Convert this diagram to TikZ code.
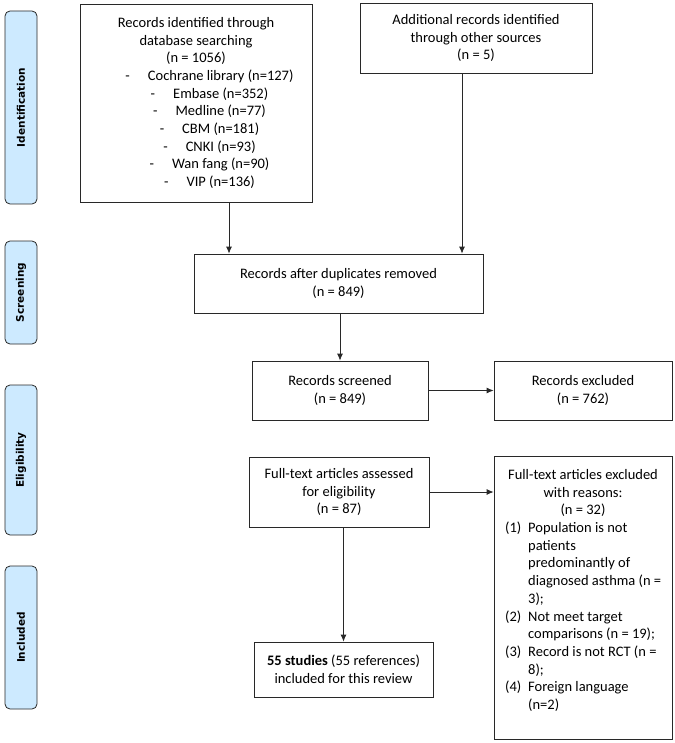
\documentclass[tikz,border=0pt]{standalone}
\usepackage{fontspec}
\setmainfont{Carlito}
\newfontfamily\labelfont{DejaVu Sans}
\usetikzlibrary{arrows.meta}
\definecolor{sideblue}{RGB}{205,234,255}
\definecolor{linegray}{RGB}{40,40,40}
\newcommand{\mainsz}{\fontsize{14.5}{17.7}\selectfont}
\newcommand{\lstitem}[1]{\makebox[27pt]{}-\hspace{18pt}#1}
\begin{document}
\begin{tikzpicture}[x=1pt,y=-1pt,
  box/.style={draw=linegray, line width=0.8pt, rectangle, inner sep=0pt, align=center, font=\mainsz, text=black},
  txt/.style={inner sep=0pt, align=center, font=\mainsz, text=black},
  side/.style={draw=linegray, line width=0.8pt, fill=sideblue, rounded corners=5pt, minimum height=32pt, inner sep=0pt, rotate=90, font=\labelfont\bfseries\fontsize{10.5}{12}\selectfont},
  arr/.style={-{Latex[length=7pt,width=6pt]}, line width=0.8pt, draw=linegray}]
\useasboundingbox (0,0) rectangle (674,743);
% side labels
\node[side, minimum width=193pt] (sid) at (21,107.5) {Identification};
\node[side, minimum width=103pt] (ssc) at (21,292.5) {Screening};
\node[side, minimum width=150pt] (sel) at (21,460) {Eligibility};
\node[side, minimum width=143pt] (sin) at (21,637.5) {Included};
% flow boxes
\node[box, minimum width=232pt, minimum height=198pt] (db) at (196,103) {Records identified through\\database searching\\(n = 1056)\\
\lstitem{Cochrane library (n=127)}\\
\lstitem{Embase (n=352)}\\
\lstitem{Medline (n=77)}\\
\lstitem{CBM (n=181)}\\
\lstitem{CNKI (n=93)}\\
\lstitem{Wan fang (n=90)}\\
\lstitem{VIP (n=136)}};
\node[box, minimum width=232pt, minimum height=70pt] (add) at (476,38) {Additional records identified\\through other sources\\(n = 5)};
\node[box, minimum width=289pt, minimum height=59pt] (rad) at (338.5,283.5) {Records after duplicates removed\\(n = 849)};
\node[box, minimum width=176pt, minimum height=59pt] (scr) at (340,390.5) {Records screened\\(n = 849)};
\node[box, minimum width=178pt, minimum height=59pt] (exc) at (583,390.5) {Records excluded\\(n = 762)};
\node[box, minimum width=180pt, minimum height=70pt] (fta) at (339,492) {Full-text articles assessed\\for eligibility\\(n = 87)};
\node[box, minimum width=178pt, minimum height=283pt] (ftex) at (583,597.5) {};
\node[txt] (ftexhd) at (583,493) {Full-text articles excluded\\with reasons:\\(n = 32)};
\node[txt, anchor=west] (ftexls) at (505,617.5) {\begin{tabular}{@{}p{23pt}@{}l@{}}
(1) & Population is not\\
 & patients\\
 & predominantly of\\
 & diagnosed asthma (n =\\
 & 3);\\
(2) & Not meet target\\
 & comparisons (n = 19);\\
(3) & Record is not RCT (n =\\
 & 8);\\
(4) & Foreign language\\
 & (n=2)
\end{tabular}};
\node[box, minimum width=179pt, minimum height=55pt] (inc) at (343.5,669.5) {\textbf{55 studies} (55 references)\\included for this review};
% connectors
\draw[arr] ([xshift=33pt]db.south) -- ([xshift=33pt]db.south |- rad.north);
\draw[arr] ([xshift=-14pt]add.south) -- ([xshift=-14pt]add.south |- rad.north);
\draw[arr] (rad.south -| scr.north) -- (scr.north);
\draw[arr] (scr.east) -- (exc.west);
\draw[arr] (fta.east) -- (fta.east -| ftex.west);
\draw[arr] (fta.south -| inc.north) -- (inc.north);
\end{tikzpicture}
\end{document}
